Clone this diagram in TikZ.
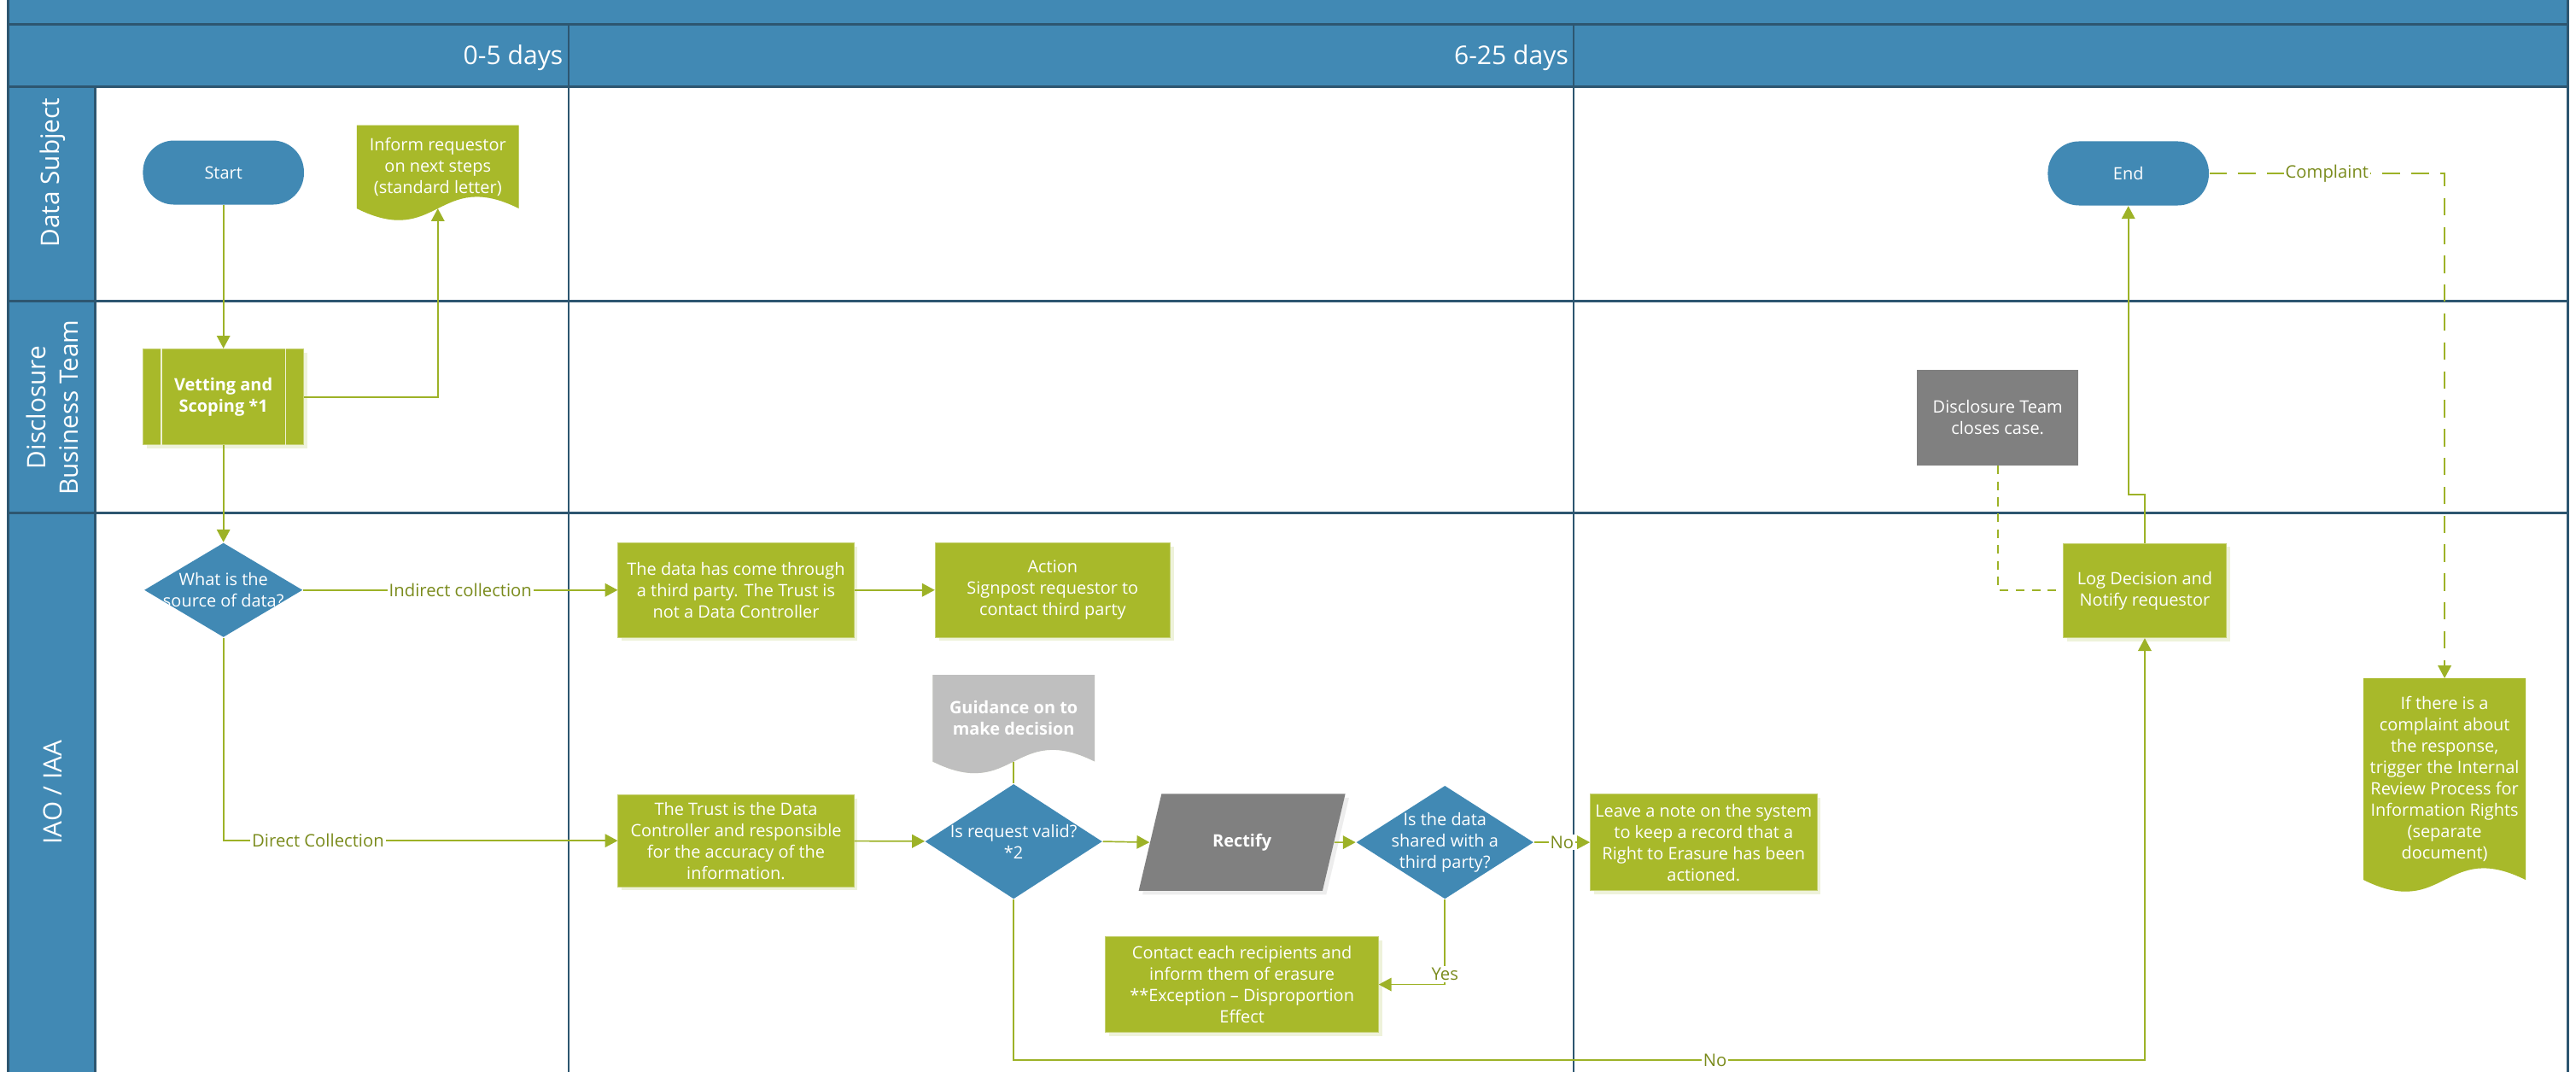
\documentclass[tikz,border=0pt]{standalone}
\usepackage{fontspec}
\setmainfont{Open Sans}
\usetikzlibrary{arrows.meta, positioning, calc, shapes.geometric, shadows, backgrounds}

\definecolor{laneBlue}{HTML}{4189B4}
\definecolor{frameDark}{HTML}{2D5670}
\definecolor{procGreen}{HTML}{A8B92A}
\definecolor{lineGreen}{HTML}{9DB227}
\definecolor{labelGreen}{HTML}{7A8B1C}
\definecolor{darkGrey}{HTML}{808080}
\definecolor{lightGrey}{HTML}{BFBFBF}
\definecolor{shadeGreen}{HTML}{EEF2DA}
\definecolor{shadeGrey}{HTML}{EDEDED}

\newcommand{\boxfont}{\fontsize{5.9}{7.4}\selectfont}
\newcommand{\lblfont}{\fontsize{6}{7.2}\selectfont}

% document shape with a wavy foot, drawn behind its node
\newcommand{\docshape}[3]{%
  \begin{pgfonlayer}{background}
  \fill[#3, shift={(1.3pt,-1.3pt)}] let \p1=(#1.north west), \p2=(#1.south east), \n1={\x2-\x1} in
    (\p1) -- (\x2,\y1) -- (\p2) .. controls ({\x2-0.5*\n1},{\y2+14pt}) and ({\x2-0.5*\n1},{\y2-14pt}) .. (\x1,\y2) -- cycle;
  \fill[#2] let \p1=(#1.north west), \p2=(#1.south east), \n1={\x2-\x1} in
    (\p1) -- (\x2,\y1) -- (\p2) .. controls ({\x2-0.5*\n1},{\y2+14pt}) and ({\x2-0.5*\n1},{\y2-14pt}) .. (\x1,\y2) -- cycle;
  \end{pgfonlayer}}

\tikzset{
  terminal/.style={
    rectangle, rounded corners=0.38cm, minimum width=1.96cm, minimum height=0.78cm,
    fill=laneBlue, text=white, font=\boxfont
  },
  process/.style={
    rectangle, minimum width=1.96cm, minimum height=1.15cm, inner sep=1pt,
    align=center, fill=procGreen, draw=procGreen!65!white, line width=0.3pt,
    text=white, font=\boxfont,
    drop shadow={shadow xshift=1.3pt,shadow yshift=-1.3pt,fill=shadeGreen,opacity=1}
  },
  greybox/.style={
    rectangle, minimum width=1.96cm, minimum height=1.16cm, inner sep=1pt,
    align=center, fill=darkGrey, text=white, font=\boxfont
  },
  docbox/.style={
    rectangle, minimum width=1.96cm, inner sep=1pt, align=center,
    text=white, font=\boxfont
  },
  decision/.style={
    diamond, inner sep=0pt, fill=laneBlue
  },
  decisionText/.style={text=white, font=\boxfont, align=center, inner sep=0pt}
}

\begin{document}
\begin{tikzpicture}[
  x=0.02cm, y=-0.02cm,
  flow/.style={-{Triangle[length=4.4pt,width=4.6pt]}, line width=0.5pt, draw=lineGreen, color=lineGreen},
  link/.style={line width=0.5pt, draw=lineGreen},
  lbl/.style={fill=white, text=labelGreen, font=\lblfont, inner sep=0.6pt},
  headText/.style={text=white, font=\fontsize{8.9}{10.7}\selectfont, inner sep=0pt},
  laneText/.style={text=white, rotate=90, align=center, font=\fontsize{8.8}{11.3}\selectfont}
]
\useasboundingbox (0,0) rectangle (1568,652);

\begin{scope}[on background layer]
\fill[laneBlue] (5,0) rectangle (1563,53);
\fill[laneBlue] (5,53) rectangle (58,652);
\draw[frameDark, line width=0.9pt] (5,0) -- (5,652) (1563,0) -- (1563,652)
  (5,15) -- (1563,15) (5,53) -- (1563,53) (5,183) -- (1563,183) (5,312) -- (1563,312)
  (58,53) -- (58,652);
\draw[frameDark, line width=0.5pt] (346,15) -- (346,652) (958,15) -- (958,652);
\end{scope}

\node[headText, anchor=east] (colA) at (343,35) {0-5 days};
\node[headText, anchor=east] (colB) at (955,35) {6-25 days};
\node[laneText] (laneSubject) at (32,105) {Data Subject};
\node[laneText] (laneTeam) at (32,248) {Disclosure\\Business Team};
\node[laneText] (laneIao) at (32,482) {IAO / IAA};

\node[terminal] (start) at (136,105) {Start};
\node[docbox, minimum height=1.0cm] (inform) at (266.5,101.5) {Inform requestor\\on next steps\\(standard letter)};
\docshape{inform}{procGreen}{shadeGreen}
\node[process, minimum height=1.17cm, font=\boxfont\bfseries] (vet) at (136,241.5) {Vetting and\\Scoping *1};
\draw[white!80!procGreen, line width=0.4pt]
  ([xshift=0.23cm]vet.north west) -- ([xshift=0.23cm]vet.south west)
  ([xshift=-0.23cm]vet.north east) -- ([xshift=-0.23cm]vet.south east);

\node[decision, minimum width=1.93cm, minimum height=1.15cm,
  label={[decisionText]center:What is the\\source of data?}] (src) at (136,359) {};
\node[process, minimum width=2.87cm] (thirdp) at (448,359) {The data has come through\\a third party. The Trust is\\not a Data Controller};
\node[process, minimum width=2.86cm, right=0.98cm of thirdp] (action) {Action\\Signpost requestor to\\contact third party};
\node[process, minimum width=2.87cm, minimum height=1.12cm] (trust) at (448,511.5) {The Trust is the Data\\Controller and responsible\\for the accuracy of the\\information.};

\node[docbox, minimum height=1.04cm, font=\boxfont\bfseries] (guide) at (617,437) {Guidance on to\\make decision};
\docshape{guide}{lightGrey}{shadeGreen}
\node[decision, minimum width=2.16cm, minimum height=1.4cm,
  label={[decisionText]center:Is request valid?\\*2}] (valid) at (617,512) {};
\node[trapezium, trapezium left angle=64, trapezium right angle=116, trapezium stretches=true,
  minimum width=2.52cm, minimum height=1.18cm, inner sep=0pt, fill=darkGrey, text=white,
  font=\boxfont\bfseries,
  drop shadow={shadow xshift=1.3pt,shadow yshift=-1.3pt,fill=shadeGrey,opacity=1}] (rect) at (756,512.5) {Rectify};
\node[decision, minimum width=2.16cm, minimum height=1.38cm,
  label={[decisionText]center:Is the data\\shared with a\\third party?}] (shared) at (879.5,512.5) {};
\node[process, minimum width=2.76cm, minimum height=1.18cm] (note) at (1037,512.5) {Leave a note on the system\\to keep a record that a\\Right to Erasure has been\\actioned.};
\node[process, minimum width=3.32cm, minimum height=1.16cm] (contact) at (756,599) {Contact each recipients and\\inform them of erasure\\**Exception – Disproportion\\Effect};

\node[greybox] (closes) at (1216,254) {Disclosure Team\\closes case.};
\node[process, minimum width=1.98cm] (log) at (1305.5,359.3) {Log Decision and\\Notify requestor};
\node[terminal] (end) at (1295.5,105.5) {End};
\node[docbox, minimum height=2.44cm] (complaint) at (1488,474) {If there is a\\complaint about\\the response,\\trigger the Internal\\Review Process for\\Information Rights\\(separate\\document)};
\docshape{complaint}{procGreen}{shadeGreen}

\coordinate (noBase) at (0,645);

\draw[flow] (start) -- (vet);
\draw[flow] (vet.east) -| (inform.south);
\draw[flow] (vet) -- (src);
\draw[flow] (src.east) -- node[lbl]{Indirect collection} (thirdp.west);
\draw[flow] (thirdp) -- (action);
\draw[flow] (src.south) |- node[lbl, pos=0.62]{Direct Collection} (trust.west);
\draw[flow] (trust) -- (valid);
\draw[link] (guide.south) -- (valid.north);
\draw[flow] (valid.east) -- (rect.west);
\draw[flow] (rect.east) -- (shared.west);
\draw[flow] (shared.east) -- node[lbl]{No} (note.west);
\draw[flow] (shared.south) |- node[lbl, pos=0.5, yshift=3.5pt]{Yes} (contact.east);
\draw[flow] (valid.south) |- node[lbl, pos=0.81]{No} (log.south |- noBase) -- (log.south);
\draw[link, dash pattern=on 3pt off 2.5pt] (closes.south) |- (log.west);
\draw[flow] (log.north) -- ++(0,-29.5) -| (end.south);
\draw[flow, dash pattern=on 6pt off 4pt] (end.east) -| node[lbl, pos=0.25, solid]{Complaint} (complaint.north);
\end{tikzpicture}
\end{document}
